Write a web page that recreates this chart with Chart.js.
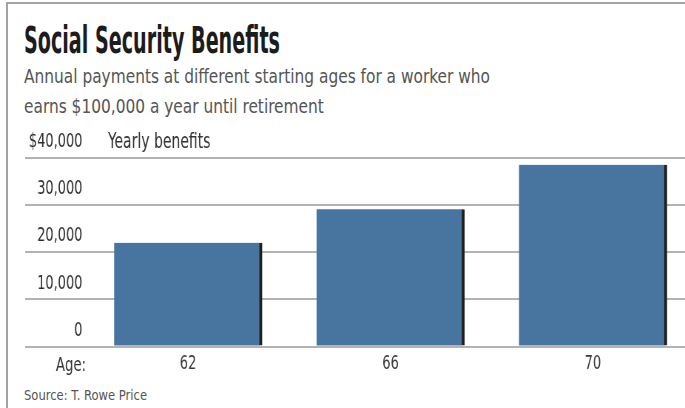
<!DOCTYPE html>
<html>
<head>
<meta charset="utf-8">
<script src="https://cdn.jsdelivr.net/npm/chart.js@4.4.1/dist/chart.umd.min.js"></script>
<style>
  html, body { margin: 0; padding: 0; background: #fff; overflow: hidden; }
  #wrap { position: relative; width: 685px; height: 408px; overflow: hidden; }
  #frame { position: absolute; left: 6px; top: 2px; width: 700px; height: 420px;
           border-left: 2px solid #a3a3a3; border-top: 2px solid #a3a3a3; }
  .txt { position: absolute; left: 24px; white-space: nowrap; transform-origin: 0 0; margin: 0; }
  #title { top: 22px; font: bold 37px 'DejaVu Sans Condensed', sans-serif;
           line-height: 37px; color: #1c1c1c; }
  #sub1, #sub2 { font: 20px 'DejaVu Sans Condensed', sans-serif;
                 line-height: 20px; color: #555; }
  #sub1 { top: 66px; }
  #sub2 { top: 96px; }
  #source { top: 388px; font: 14px 'DejaVu Sans Condensed', sans-serif;
            line-height: 14px; color: #555; }
  #myChart { position: absolute; left: 0; top: 0; }
</style>
</head>
<body>
<div id="wrap">
  <div id="frame"></div>
  <div class="txt" id="title">Social Security Benefits</div>
  <div class="txt" id="sub1">Annual payments at different starting ages for a worker who</div>
  <div class="txt" id="sub2">earns $100,000 a year until retirement</div>
  <div class="txt" id="source">Source: T. Rowe Price</div>
  <!-- canvas is drawn wider and squeezed, so its labels come out condensed like the print -->
  <canvas id="myChart" width="926" height="408" style="width:685px;height:408px"></canvas>
</div>
<script>
const ages = [62, 66, 70];
const benefits = [22000, 29150, 38550];
const yTicks = [0, 10000, 20000, 30000, 40000];
const yTickLabels = ['0', '10,000', '20,000', '30,000', '$40,000'];
const axisLabel = 'Yearly benefits';
const ageLabel = 'Age:';

const tickFont = "'DejaVu Sans Condensed', sans-serif";

// squeeze the html headings to the widths in the picture
function fitWidth(id, target) {
    const el = document.getElementById(id);
    const w = el.getBoundingClientRect().width;
    el.style.transform = 'scaleX(' + (target / w) + ')';
    return target / w;
}
fitWidth('title', 256);
const s = fitWidth('sub1', 466);
document.getElementById('sub2').style.transform = 'scaleX(' + s + ')';
fitWidth('source', 123);

const extraText = {
    id: 'extraText',
    afterDraw(chart) {
        const c = chart.ctx;
        const y = chart.scales.y;
        const x = chart.scales.x;
        c.save();
        c.fillStyle = '#333';
        c.textBaseline = 'middle';
        c.textAlign = 'left';
        c.font = '21px ' + tickFont;
        c.fillText(axisLabel, chart.chartArea.left + 112, y.getPixelForValue(40000) - 15);
        c.textAlign = 'center';
        c.font = '20px ' + tickFont;
        c.fillText(ageLabel, chart.chartArea.left + 62, x.bottom - x.height / 2 + 1);
        c.restore();
    }
};

const ctx = document.getElementById('myChart');
const myChart = new Chart(ctx, {
    type: 'bar',
    data: {
        datasets: [{
            data: ages.map(function(a, i) { return { x: a, y: benefits[i] }; }),
            backgroundColor: '#48759f',
            borderColor: '#1e1e1e',
            borderWidth: { top: 0, left: 0, bottom: 0, right: 4 },
            borderSkipped: false,
            barThickness: 200
        }]
    },
    options: {
        responsive: false,
        animation: false,
        layout: { padding: { left: 24, right: 0, top: 158, bottom: 26 } },
        plugins: { legend: { display: false }, tooltip: { enabled: false } },
        scales: {
            x: {
                type: 'linear',
                offset: false,
                min: 58.78,
                max: 71.82,
                afterBuildTicks: function(scale) {
                    scale.ticks = ages.map(function(a) { return { value: a }; });
                },
                grid: { display: false, drawTicks: false },
                border: { display: false },
                ticks: {
                    padding: 6,
                    color: '#3a3a3a',
                    font: { family: tickFont, size: 19.5 },
                    callback: function(v) { return String(v); }
                }
            },
            y: {
                min: 0,
                max: 40000,
                afterBuildTicks: function(scale) {
                    scale.ticks = yTicks.map(function(v) { return { value: v }; });
                },
                grid: { color: '#b3b3b3', lineWidth: 2, drawTicks: false },
                border: { display: false },
                ticks: {
                    mirror: true,
                    crossAlign: 'far',
                    padding: 5,
                    labelOffset: -16,
                    color: '#2e2e2e',
                    font: { family: tickFont, size: 19.5 },
                    callback: function(v) { return yTickLabels[yTicks.indexOf(v)]; }
                }
            }
        }
    },
    plugins: [extraText]
});
</script>
</body>
</html>
